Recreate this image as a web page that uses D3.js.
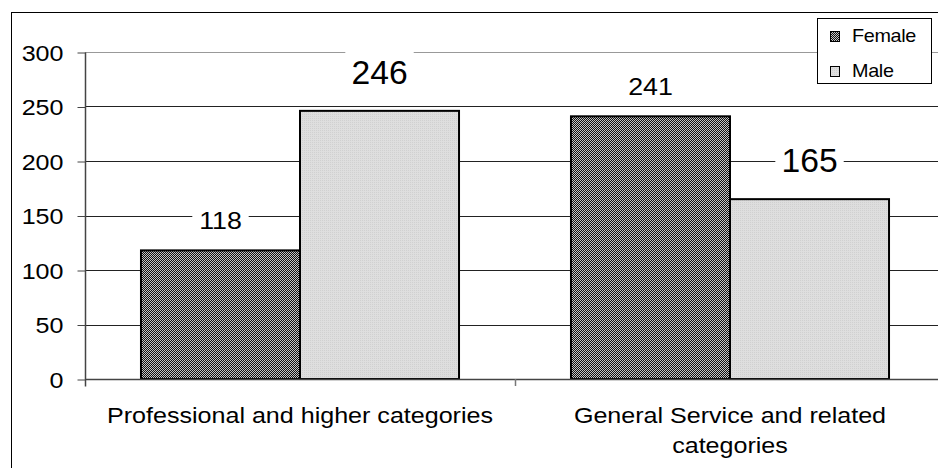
<!DOCTYPE html>
<html>
<head>
<meta charset="utf-8">
<script src="https://cdn.jsdelivr.net/npm/d3@7"></script>
<style>
  html, body { margin: 0; padding: 0; background: #fff; }
  svg { display: block; font-family: "Liberation Sans", Arial, sans-serif; }
</style>
</head>
<body>
<svg id="chart" width="938" height="468"></svg>
<script>
// Staff counts by category and sex
const categories = ["Professional and higher categories", "General Service and related categories"];
const seriesNames = ["Female", "Male"];
const female = [118, 241];
const male = [246, 165];
const yTicks = [0, 50, 100, 150, 200, 250, 300];

const seriesValues = { Female: female, Male: male };

const svg = d3.select("#chart");
const W = 938, H = 468;
const WIDE = 1.14; // horizontal widening applied to the text

// place a text element at (x, y), widened horizontally about its anchor
function placeText(sel, x, y, k) {
  sel.attr("x", 0).attr("y", 0)
    .attr("transform", `translate(${x},${y}) scale(${k},1)`);
}

// patterns for the bar fills
const defs = svg.append("defs");
const pf = defs.append("pattern").attr("id", "patFemale")
  .attr("patternUnits", "userSpaceOnUse").attr("width", 2).attr("height", 2);
pf.append("rect").attr("width", 2).attr("height", 2).attr("fill", "#c4c4c4");
pf.append("rect").attr("x", 0).attr("y", 0).attr("width", 1).attr("height", 1).attr("fill", "#111");
pf.append("rect").attr("x", 1).attr("y", 1).attr("width", 1).attr("height", 1).attr("fill", "#111");

const pm = defs.append("pattern").attr("id", "patMale")
  .attr("patternUnits", "userSpaceOnUse").attr("width", 2).attr("height", 2);
pm.append("rect").attr("width", 2).attr("height", 2).attr("fill", "#dedede");
pm.append("rect").attr("x", 1).attr("y", 0).attr("width", 1).attr("height", 1).attr("fill", "#d0d0d0");

const fills = { Female: "url(#patFemale)", Male: "url(#patMale)" };

// outer chart border (runs past the right and bottom edges)
svg.append("rect").attr("x", 11.5).attr("y", 12.5).attr("width", W + 20).attr("height", H + 20)
  .attr("fill", "none").attr("stroke", "#000").attr("stroke-width", 1);

const plot = { left: 85, top: 52, bottom: 379, right: 945 };

const y = d3.scaleLinear().domain([0, 300]).range([plot.bottom, plot.top]);
const x0 = d3.scaleBand().domain(categories).range([plot.left, plot.right]).padding(0);
const x1 = d3.scaleBand().domain(seriesNames).range([0, x0.bandwidth()])
  .paddingInner(0).paddingOuter(0.352);

// gridlines
svg.append("g").selectAll("line").data(yTicks.filter(d => d > 0)).join("line")
  .attr("x1", plot.left).attr("x2", W)
  .attr("y1", d => Math.round(y(d)) + 0.5).attr("y2", d => Math.round(y(d)) + 0.5)
  .attr("stroke", d => d === 300 ? "#999" : "#222").attr("stroke-width", 1);

// y axis
const yAxis = d3.axisLeft(y).tickValues(yTicks).tickSize(8);
const gy = svg.append("g").attr("transform", `translate(${plot.left + 0.5},0.5)`).call(yAxis);
gy.select(".domain").attr("d", `M0,${plot.top}V${plot.bottom + 7}`).attr("stroke", "#444").attr("stroke-width", 1.5);
gy.selectAll(".tick line").attr("stroke", "#444");
gy.selectAll(".tick text")
  .attr("font-size", 22).attr("fill", "#000").attr("dy", "0.35em")
  .attr("font-family", "Liberation Sans, Arial, sans-serif")
  .each(function () { placeText(d3.select(this), -22, 0, WIDE); });

// bars
const groups = svg.append("g").selectAll("g").data(categories).join("g")
  .attr("transform", d => `translate(${x0(d)},0)`);
groups.selectAll("rect")
  .data((c, i) => seriesNames.map(s => ({ s, v: seriesValues[s][i] })))
  .join("rect")
  .attr("x", d => x1(d.s))
  .attr("y", d => y(d.v))
  .attr("width", x1.bandwidth())
  .attr("height", d => y(0) - y(d.v))
  .attr("fill", d => fills[d.s])
  .attr("stroke", "#000").attr("stroke-width", 2);

// x axis
svg.append("line").attr("x1", plot.left).attr("x2", W)
  .attr("y1", plot.bottom + 0.5).attr("y2", plot.bottom + 0.5)
  .attr("stroke", "#444").attr("stroke-width", 1.5);
svg.append("g").selectAll("line").data(categories.slice(1)).join("line")
  .attr("x1", d => x0(d) + 0.5).attr("x2", d => x0(d) + 0.5)
  .attr("y1", plot.bottom).attr("y2", plot.bottom + 7)
  .attr("stroke", "#777").attr("stroke-width", 1.5);

// category labels, wrapped to the band width and hanging from the axis
const catLines = {
  "Professional and higher categories": ["Professional and higher categories"],
  "General Service and related categories": ["General Service and related", "categories"]
};
categories.forEach(c => {
  const cx = x0(c) + x1("Male");
  catLines[c].forEach((ln, k) => {
    svg.append("text").attr("text-anchor", "middle").attr("font-size", 22).attr("fill", "#000")
      .text(ln).call(placeText, cx, 423 + k * 30, WIDE);
  });
});

// value labels on a white backing
const labelStyle = { Female: { size: 23.5, gap: 21, k: WIDE }, Male: { size: 33, gap: 27, k: 1.02 } };
const lbl = svg.append("g");
categories.forEach((c, i) => {
  seriesNames.forEach(s => {
    const v = seriesValues[s][i];
    const st = labelStyle[s];
    const cx = x0(c) + x1(s) + x1.bandwidth() / 2;
    const by = y(v) - st.gap;
    const g = lbl.append("g").attr("transform", `translate(${cx},${by}) scale(${st.k},1)`);
    const t = g.append("text").attr("x", 0).attr("y", 0)
      .attr("text-anchor", "middle").attr("font-size", st.size).attr("fill", "#000").text(v);
    const bb = t.node().getBBox();
    g.insert("rect", "text").attr("x", bb.x - 6).attr("y", bb.y - 4).attr("width", bb.width + 12)
      .attr("height", bb.height + 2).attr("fill", "#fff");
  });
});

// legend
const lg = svg.append("g").attr("transform", "translate(817,18)");
lg.append("rect").attr("x", 0.5).attr("y", 0.5).attr("width", 114).attr("height", 65)
  .attr("fill", "#fff").attr("stroke", "#000").attr("stroke-width", 1);
seriesNames.forEach((s, k) => {
  const base = 24 + k * 35;
  lg.append("rect").attr("x", 13.5).attr("y", base - 10.5).attr("width", 9).attr("height", 10)
    .attr("fill", fills[s]).attr("stroke", "#000").attr("stroke-width", 1);
  lg.append("text").attr("font-size", 18).attr("fill", "#000").attr("letter-spacing", -0.3)
    .text(s).call(placeText, 35, base, 1.1);
});
</script>
</body>
</html>
